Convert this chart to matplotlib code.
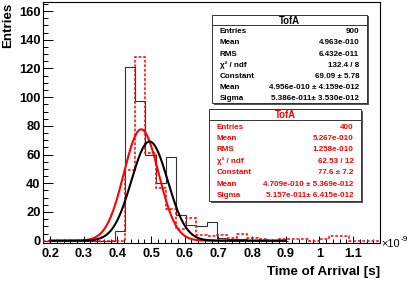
import numpy as np
import matplotlib
matplotlib.use("Agg")
import matplotlib.pyplot as plt
from matplotlib.patches import Rectangle
from matplotlib.ticker import MultipleLocator, FuncFormatter

# ---------------- data (time in units of 1e-9 s) ----------------
hist_min = 0.18
hist_max = 1.18
n_bins = 33
black_counts = [0, 0, 0, 0, 0, 0, 0, 7, 121, 97, 60, 40, 58, 18, 11, 10, 13, 2, 1, 1, 0, 0, 0, 0]
red_counts = [0, 0, 0, 0, 0, 0, 0, 0, 49, 128, 61, 37, 22, 8, 16, 4, 3, 4, 2, 5, 2, 1, 0,
              1, 1, 1, 0, 1, 3, 3, 0, 0, 0]
black_fit = [69.09, 0.4956, 0.05386]   # constant, mean, sigma
red_fit = [77.6, 0.4709, 0.05157]
fit_range = [0.2, 0.9]

stat_labels = ["Entries", "Mean", "RMS", "\u03c7\u00b2 / ndf", "Constant", "Mean", "Sigma"]
black_stats = ["900", "4.963e-010", "6.432e-011", "132.4 / 8", "69.09 \u00b1 5.78",
               "4.956e-010 \u00b1 4.159e-012", "5.386e-011\u00b1 3.530e-012"]
red_stats = ["400", "5.267e-010", "1.258e-010", "62.53 / 12", "77.6 \u00b1 7.2",
             "4.709e-010 \u00b1 5.369e-012", "5.157e-011\u00b1 6.415e-012"]
stat_title = "TofA"
x_label = "Time of Arrival [s]"
y_label = "Entries"

# ---------------- figure ----------------
W, H = 415, 281
plt.rcParams["font.family"] = ["Liberation Sans", "DejaVu Sans"]
fig = plt.figure(figsize=(W / 100, H / 100), dpi=100)

def fx(x):
    return x / W

def fy(y):
    return 1 - y / H

L, R, T, B = 43.3, 380.0, 2.0, 243.0
ax = fig.add_axes([fx(L), fy(B), (R - L) / W, (B - T) / H])

edges = np.linspace(hist_min, hist_max, n_bins + 1)
ax.stairs(black_counts, edges[:len(black_counts) + 1], baseline=None,
          color="#333333", lw=0.8, zorder=2)
ax.stairs(red_counts, edges, baseline=None, color="red", lw=1.1,
          linestyle=(0, (1.8, 1.2)), zorder=3)

xs = np.linspace(fit_range[0], fit_range[1], 500)
for par, col, z in [(red_fit, "red", 4), (black_fit, "black", 5)]:
    c, m, s = par
    ax.plot(xs, c * np.exp(-0.5 * ((xs - m) / s) ** 2), color=col, lw=1.5, zorder=z)

ax.set_xlim(hist_min, hist_max)
ax.set_ylim(-1.6, 166.3)
ax.xaxis.set_major_locator(MultipleLocator(0.1))
ax.xaxis.set_minor_locator(MultipleLocator(0.02))
ax.yaxis.set_major_locator(MultipleLocator(20))
ax.yaxis.set_minor_locator(MultipleLocator(5))
ax.xaxis.set_major_formatter(FuncFormatter(lambda v, p: ("%.1f" % v).rstrip("0").rstrip(".")))
ax.yaxis.set_major_formatter(FuncFormatter(lambda v, p: "%d" % round(v)))
ax.tick_params(axis="x", which="major", direction="in", length=5.2, width=0.7,
               labelsize=9.3, pad=3.3)
ax.tick_params(axis="x", which="minor", direction="in", length=2.6, width=0.7)
ax.tick_params(axis="y", which="major", direction="in", length=7.2, width=0.7,
               labelsize=9.3, pad=2.0)
ax.tick_params(axis="y", which="minor", direction="in", length=3.6, width=0.7)
for lab in ax.get_xticklabels() + ax.get_yticklabels():
    lab.set_fontweight("bold")
for sp in ax.spines.values():
    sp.set_linewidth(0.8)

fig.text(fx(380), fy(271.5), x_label, ha="right", va="center", fontsize=9.6,
         fontweight="bold")
fig.text(fx(8.5), fy(3), y_label, ha="center", va="top", rotation=90, fontsize=9.6,
         fontweight="bold")
fig.text(fx(381.5), fy(244), "\u00d710", ha="left", va="center", fontsize=7.8)
fig.text(fx(400.5), fy(239.5), "-9", ha="left", va="center", fontsize=6.0)

# ---------------- stat boxes ----------------
def stat_box(left, top, right, bottom, sep_y, title_y, row_y0, row_dy, values, tcol):
    sh = 1.6
    fig.add_artist(Rectangle((fx(left + sh), fy(bottom + sh)), (right - left) / W,
                             (bottom - top) / H, transform=fig.transFigure,
                             facecolor="#555555", edgecolor="none", zorder=10))
    fig.add_artist(Rectangle((fx(left), fy(bottom)), (right - left) / W,
                             (bottom - top) / H, transform=fig.transFigure,
                             facecolor="white", edgecolor="#333333", lw=0.7, zorder=11))
    fig.add_artist(plt.Line2D([fx(left), fx(right)], [fy(sep_y), fy(sep_y)],
                              transform=fig.transFigure, color="#333333", lw=0.7,
                              zorder=12))
    fig.text(fx((left + right) / 2), fy(title_y), stat_title, ha="center", va="center",
             fontsize=6.9, fontweight="bold", color=tcol, zorder=13)
    for i, (lab, val) in enumerate(zip(stat_labels, values)):
        y = row_y0 + i * row_dy
        fig.text(fx(left + 7.5), fy(y), lab, ha="left", va="center", fontsize=5.8,
                 fontweight="bold", color=tcol, zorder=13)
        fig.text(fx(right - 7.7), fy(y), val, ha="right", va="center", fontsize=5.8,
                 fontweight="bold", color=tcol, zorder=13)

stat_box(212.3, 14.5, 367.0, 103.0, 25.0, 20.5, 31.8, 11.1, black_stats, "black")
stat_box(209.0, 109.0, 361.0, 201.0, 119.5, 114.8, 127.3, 11.35, red_stats, "red")

fig.savefig("out.png", dpi=100)
